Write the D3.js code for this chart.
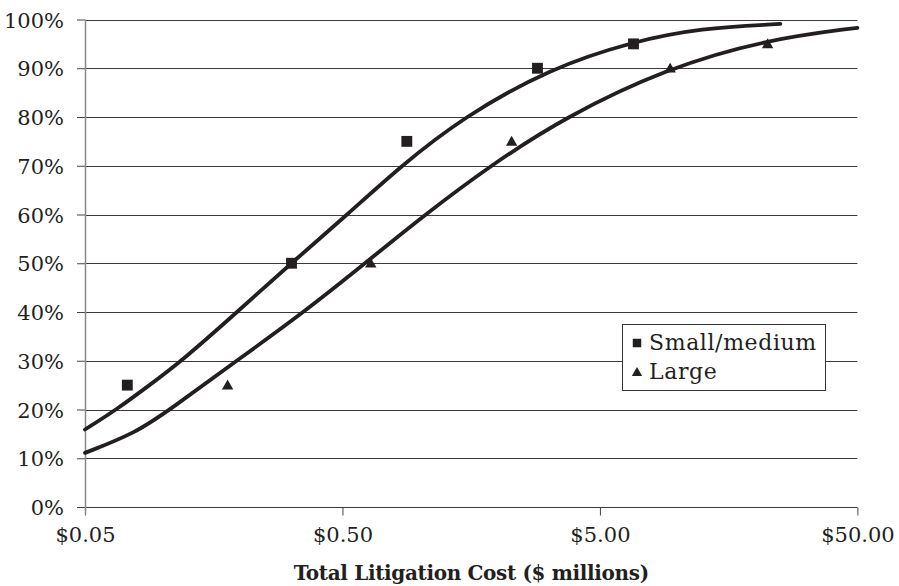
<!DOCTYPE html>
<html>
<head>
<meta charset="utf-8">
<script src="https://cdn.jsdelivr.net/npm/d3@7"></script>
<style>
  html, body { margin: 0; padding: 0; background: #fff; }
  svg { display: block; }
  text { font-family: "DejaVu Serif", "Liberation Serif", serif; fill: #231f20; }
</style>
</head>
<body>
<svg id="chart" width="899" height="586"></svg>
<script>
// ---- data ----
const xTicks = [0.05, 0.5, 5, 50];
const xTickLabels = ["$0.05", "$0.50", "$5.00", "$50.00"];
const yTicks = [0, 10, 20, 30, 40, 50, 60, 70, 80, 90, 100];

// observed points
const smallX = [0.073, 0.317, 0.889, 2.86, 6.75];
const smallY = [25, 50, 75, 90, 95];
const largeX = [0.179, 0.644, 2.27, 9.37, 22.4];
const largeY = [25, 50, 75, 90, 95];

// fitted curves (traced)
const smallFitX = [0.05, 0.0664, 0.089, 0.119, 0.195, 0.316, 0.523, 0.845, 1.475, 3.20, 6.73, 12.25, 25.1];
const smallFitY = [15.9, 20.0, 25.0, 30.0, 40.0, 50.0, 60.0, 70.0, 80.0, 90.0, 95.5, 98.2, 99.1];
const largeFitX = [0.05, 0.0782, 0.107, 0.194, 0.355, 0.612, 1.047, 1.872, 3.663, 9.10, 22.2, 50];
const largeFitY = [11.1, 15.1, 20.0, 30.0, 40.0, 50.0, 60.0, 70.0, 80.0, 90.0, 95.9, 98.3];

const seriesNames = ["Small/medium", "Large"];
const xTitle = "Total Litigation Cost ($ millions)";

// ---- layout ----
const svg = d3.select("#chart");
const pLeft = 85, pRight = 857.4, pTop = 19.5, pBottom = 507;
const ink = "#231f20";

const x = d3.scaleLog().domain([0.05, 50]).range([pLeft, pRight]);
const y = d3.scaleLinear().domain([0, 100]).range([pBottom, pTop]);

// y axis ticks + labels
const yAxis = d3.axisLeft(y).tickValues(yTicks).tickSize(8).tickPadding(13)
  .tickFormat(d => d + "%");
const gy = svg.append("g").attr("transform", `translate(${pLeft},0)`).call(yAxis);
gy.select(".domain").remove();
gy.selectAll(".tick line").attr("stroke", "#444").attr("stroke-width", 1);
gy.selectAll(".tick text").attr("font-size", 21).attr("fill", ink).attr("dy", "0.36em")
  .attr("font-family", "DejaVu Serif");

// gridlines
svg.append("g").selectAll("line").data(yTicks).join("line")
  .attr("x1", pLeft).attr("x2", pRight)
  .attr("y1", d => Math.round(y(d)) + 0.5).attr("y2", d => Math.round(y(d)) + 0.5)
  .attr("stroke", "#3a3a3a").attr("stroke-width", 1);

// x axis
const xAxis = d3.axisBottom(x).tickValues(xTicks).tickSize(8).tickPadding(12)
  .tickFormat((d, i) => xTickLabels[i]);
const gx = svg.append("g").attr("transform", `translate(0,${Math.round(pBottom) + 0.5})`).call(xAxis);
gx.select(".domain").remove();
gx.selectAll(".tick line").attr("stroke", "#444").attr("stroke-width", 1);
gx.selectAll(".tick text").attr("font-size", 21).attr("fill", ink).attr("font-family", "DejaVu Serif");

// y axis line
svg.append("line")
  .attr("x1", pLeft + 0.5).attr("x2", pLeft + 0.5)
  .attr("y1", pTop).attr("y2", pBottom + 8)
  .attr("stroke", "#888").attr("stroke-width", 1.5);

// x title
svg.append("text")
  .attr("x", (pLeft + pRight) / 2).attr("y", 580)
  .attr("text-anchor", "middle")
  .attr("font-size", 20).attr("font-weight", "bold").attr("letter-spacing", -0.35)
  .text(xTitle);

// curves
const line = d3.line().x(d => x(d[0])).y(d => y(d[1])).curve(d3.curveBasis);
svg.append("path").datum(d3.zip(smallFitX, smallFitY)).attr("d", line)
  .attr("fill", "none").attr("stroke", ink).attr("stroke-width", 3.8).attr("stroke-linecap", "round");
svg.append("path").datum(d3.zip(largeFitX, largeFitY)).attr("d", line)
  .attr("fill", "none").attr("stroke", ink).attr("stroke-width", 3.8).attr("stroke-linecap", "round");

// markers
const sq = d3.symbol().type(d3.symbolSquare).size(118);
const tri = d3.symbol().type(d3.symbolTriangle).size(56);
svg.append("g").selectAll("path").data(d3.zip(smallX, smallY)).join("path")
  .attr("d", sq).attr("fill", ink)
  .attr("transform", d => `translate(${x(d[0])},${y(d[1])})`);
svg.append("g").selectAll("path").data(d3.zip(largeX, largeY)).join("path")
  .attr("d", tri).attr("fill", ink)
  .attr("transform", d => `translate(${x(d[0])},${y(d[1]) + 1})`);

// legend
const lg = svg.append("g");
lg.append("rect").attr("x", 622.5).attr("y", 324.5).attr("width", 203).attr("height", 66)
  .attr("fill", "#fff").attr("stroke", "#333").attr("stroke-width", 1);
lg.append("path").attr("d", d3.symbol().type(d3.symbolSquare).size(72))
  .attr("fill", ink).attr("transform", "translate(637,343)");
lg.append("path").attr("d", d3.symbol().type(d3.symbolTriangle).size(46))
  .attr("fill", ink).attr("transform", "translate(637,373)");
lg.append("text").attr("x", 649).attr("y", 350).attr("font-size", 22).attr("letter-spacing", 0.6).text(seriesNames[0]);
lg.append("text").attr("x", 649).attr("y", 379).attr("font-size", 22).attr("letter-spacing", 0.6).text(seriesNames[1]);
</script>
</body>
</html>
